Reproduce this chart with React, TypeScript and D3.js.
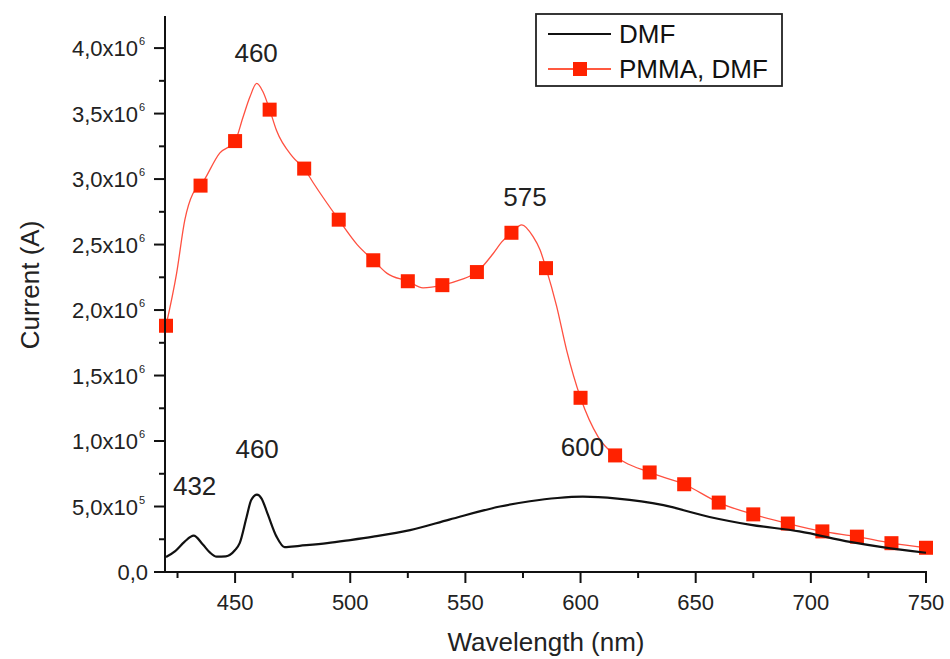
import * as d3 from 'd3';

// wavelength (nm) and current (A)
const dmfWl = [420, 424, 428, 432, 436, 439, 442, 446, 450, 452, 455, 457, 459.5, 461.5, 464, 468, 471.5, 478, 490, 500, 510, 526, 543, 565, 578, 590, 601, 616, 636, 656, 674, 695, 717, 731, 750];
const dmfCur = [0.115, 0.16, 0.23, 0.277, 0.21, 0.15, 0.117, 0.12, 0.168, 0.22, 0.42, 0.55, 0.59, 0.56, 0.45, 0.27, 0.19, 0.2, 0.22, 0.244, 0.27, 0.32, 0.4, 0.5, 0.54, 0.565, 0.575, 0.56, 0.51, 0.42, 0.36, 0.31, 0.23, 0.19, 0.147].map((v) => v * 1e6);

const pmmaWl = [420, 424.6, 428.2, 431.7, 435, 443.4, 450, 453.4, 456.5, 459.4, 462, 465, 468, 475, 480, 484, 495, 503, 510, 516, 525, 531.6, 540, 547.7, 555, 562, 565.8, 570, 574.5, 579.4, 582.4, 585, 589.6, 594, 600, 607.7, 615, 630, 645, 660, 675, 690, 705, 720, 735, 750];
const pmmaCur = [1.88, 2.28, 2.69, 2.89, 2.95, 3.2, 3.29, 3.47, 3.63, 3.73, 3.67, 3.53, 3.37, 3.17, 3.08, 2.97, 2.69, 2.5, 2.38, 2.28, 2.22, 2.17, 2.19, 2.23, 2.29, 2.43, 2.52, 2.59, 2.65, 2.56, 2.46, 2.32, 2.03, 1.69, 1.33, 1.03, 0.89, 0.76, 0.67, 0.53, 0.44, 0.37, 0.31, 0.27, 0.22, 0.185].map((v) => v * 1e6);

// square markers every 15 nm
const markerWl = d3.range(420, 751, 15);

const xMajor = [450, 500, 550, 600, 650, 700, 750];
const xMinor = [425, 475, 525, 575, 625, 675, 725];
const yMajor = [0, 0.5e6, 1e6, 1.5e6, 2e6, 2.5e6, 3e6, 3.5e6, 4e6];
const yMinor = [0.25e6, 0.75e6, 1.25e6, 1.75e6, 2.25e6, 2.75e6, 3.25e6, 3.75e6];
const yLabels = ['0,0', '5,0x10', '1,0x10', '1,5x10', '2,0x10', '2,5x10', '3,0x10', '3,5x10', '4,0x10'];
const yExps = ['', '5', '6', '6', '6', '6', '6', '6', '6'];

const peaks = [
  { wl: 460, v: 3.73e6, label: '460', dx: -2, dy: -21 },
  { wl: 575, v: 2.65e6, label: '575', dx: 2, dy: -19 },
  { wl: 432, v: 0.277e6, label: '432', dx: 1, dy: -41 },
  { wl: 460, v: 0.59e6, label: '460', dx: -1, dy: -37 },
  { wl: 600, v: 0.575e6, label: '600', dx: 2, dy: -41 },
];

const RED = '#ff2200';

export default function App() {
  const width = 950;
  const height = 659;
  const font = 'Liberation Sans, Arial, sans-serif';

  const x = d3.scaleLinear().domain([420, 750]).range([166, 926]);
  const y = d3.scaleLinear().domain([0, 4.245e6]).range([572, 16]);

  const lineGen = d3
    .line<[number, number]>()
    .x((d) => x(d[0]))
    .y((d) => y(d[1]))
    .curve(d3.curveMonotoneX);

  const dmfPath = lineGen(dmfWl.map((w, i) => [w, dmfCur[i]]));
  const pmmaPts: [number, number][] = pmmaWl.map((w, i) => [w, pmmaCur[i]]);
  const pmmaPath = lineGen(pmmaPts);
  const markers = pmmaPts.filter((p) => markerWl.includes(p[0]));

  const x0 = x.range()[0] - 1;
  const yBase = y(0);

  return (
    <svg width={width} height={height} style={{ position: 'absolute', left: 0, top: 0 }} fontFamily={font}>
      <rect width={width} height={height} fill="#fff" />

      <path d={pmmaPath ?? ''} fill="none" stroke="#ff5040" strokeWidth={1.3} />
      {markers.map((m) => (
        <rect key={m[0]} x={x(m[0]) - 7} y={y(m[1]) - 7} width={14} height={14} fill={RED} />
      ))}
      <path d={dmfPath ?? ''} fill="none" stroke="#111" strokeWidth={2.2} />

      {/* axes */}
      <line x1={x0} x2={x0} y1={y.range()[1]} y2={yBase + 1} stroke="#111" strokeWidth={2} />
      <line x1={x0} x2={x.range()[1] + 1} y1={yBase} y2={yBase} stroke="#111" strokeWidth={2} />

      {yMajor.map((v, i) => (
        <g key={v}>
          <line x1={x0 - 11} x2={x0} y1={y(v)} y2={y(v)} stroke="#111" strokeWidth={2} />
          <text x={yExps[i] ? 138 : 148} y={y(v) + 8} textAnchor="end" fontSize={22} fill="#222">
            {yLabels[i]}
          </text>
          {yExps[i] && (
            <text x={139} y={y(v) - 3} fontSize={11} fill="#222">
              {yExps[i]}
            </text>
          )}
        </g>
      ))}
      {yMinor.map((v) => (
        <line key={v} x1={x0 - 6} x2={x0} y1={y(v)} y2={y(v)} stroke="#111" strokeWidth={2} />
      ))}

      {xMajor.map((v) => (
        <g key={v}>
          <line x1={x(v)} x2={x(v)} y1={yBase} y2={yBase + 11} stroke="#111" strokeWidth={2} />
          <text x={x(v)} y={610} textAnchor="middle" fontSize={22} fill="#222">
            {v}
          </text>
        </g>
      ))}
      {xMinor.map((v) => (
        <line key={v} x1={x(v)} x2={x(v)} y1={yBase} y2={yBase + 6} stroke="#111" strokeWidth={2} />
      ))}

      <text x={546} y={651} textAnchor="middle" fontSize={26} fill="#222">
        Wavelength (nm)
      </text>
      <text transform="translate(39,285) rotate(-90)" textAnchor="middle" fontSize={26} fill="#222">
        Current (A)
      </text>

      {peaks.map((p, i) => (
        <text key={i} x={x(p.wl) + p.dx} y={y(p.v) + p.dy} textAnchor="middle" fontSize={26} fill="#222">
          {p.label}
        </text>
      ))}

      {/* legend */}
      <rect x={536} y={14} width={246} height={72} fill="#fff" stroke="#222" strokeWidth={1.8} />
      <line x1={548} x2={611} y1={34} y2={34} stroke="#111" strokeWidth={2} />
      <text x={619} y={43} fontSize={26} fill="#111">
        DMF
      </text>
      <line x1={548} x2={611} y1={69} y2={69} stroke={RED} strokeWidth={1.5} />
      <rect x={573} y={62} width={14} height={14} fill={RED} />
      <text x={619} y={78} fontSize={26} fill="#111">
        PMMA, DMF
      </text>
    </svg>
  );
}
